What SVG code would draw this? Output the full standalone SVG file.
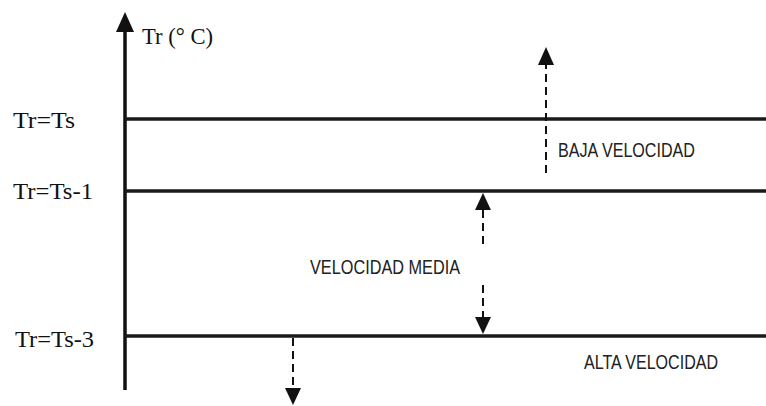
<svg xmlns="http://www.w3.org/2000/svg" width="766" height="406" viewBox="0 0 766 406">
<style>
.axis{stroke:#111;stroke-width:3.5;fill:none}
.lvl{stroke:#1a1a1a;stroke-width:3.5;fill:none}
.dash{stroke:#111;stroke-width:2;stroke-dasharray:8,5;fill:none}
.head{fill:#111}
.serif{font-family:"Liberation Serif","Times New Roman",serif;font-size:23px;fill:#111}
.sans{font-family:"Liberation Sans",Arial,sans-serif;font-size:21px;fill:#222}
</style>
<rect width="766" height="406" fill="#fff"/>
<g id="axis">
<line class="axis" x1="125" y1="28" x2="125" y2="390"/>
<polygon class="head" points="125,12 116,32 134,32"/>
<text class="serif" x="142" y="44" textLength="71" lengthAdjust="spacingAndGlyphs">Tr (° C)</text>
</g>
<g id="level-ts">
<line class="lvl" x1="125" y1="119" x2="766" y2="119"/>
<text class="serif" x="13" y="128" textLength="62" lengthAdjust="spacingAndGlyphs">Tr=Ts</text>
</g>
<g id="level-ts1">
<line class="lvl" x1="125" y1="191" x2="766" y2="191"/>
<text class="serif" x="13" y="199" textLength="80" lengthAdjust="spacingAndGlyphs">Tr=Ts-1</text>
</g>
<g id="level-ts3">
<line class="lvl" x1="125" y1="336" x2="766" y2="336"/>
<text class="serif" x="15" y="347" textLength="79" lengthAdjust="spacingAndGlyphs">Tr=Ts-3</text>
</g>
<g id="baja">
<text class="sans" x="558" y="157" textLength="137" lengthAdjust="spacingAndGlyphs">BAJA VELOCIDAD</text>
</g>
<g id="media">
<text class="sans" x="310" y="274" textLength="150" lengthAdjust="spacingAndGlyphs">VELOCIDAD MEDIA</text>
</g>
<g id="alta">
<text class="sans" x="584" y="369" textLength="134" lengthAdjust="spacingAndGlyphs">ALTA VELOCIDAD</text>
</g>
<g id="connectors">
<line class="dash" x1="546" y1="173" x2="546" y2="64"/>
<polygon class="head" points="546,47 538,65 554,65"/>
<line class="dash" x1="483" y1="210" x2="483" y2="248"/>
<polygon class="head" points="483,193 475,210 491,210"/>
<line class="dash" x1="483" y1="285" x2="483" y2="318"/>
<polygon class="head" points="483,334 475,317 491,317"/>
<line class="dash" x1="293" y1="338" x2="293" y2="389"/>
<polygon class="head" points="293,405 285,388 301,388"/>
</g>
</svg>
